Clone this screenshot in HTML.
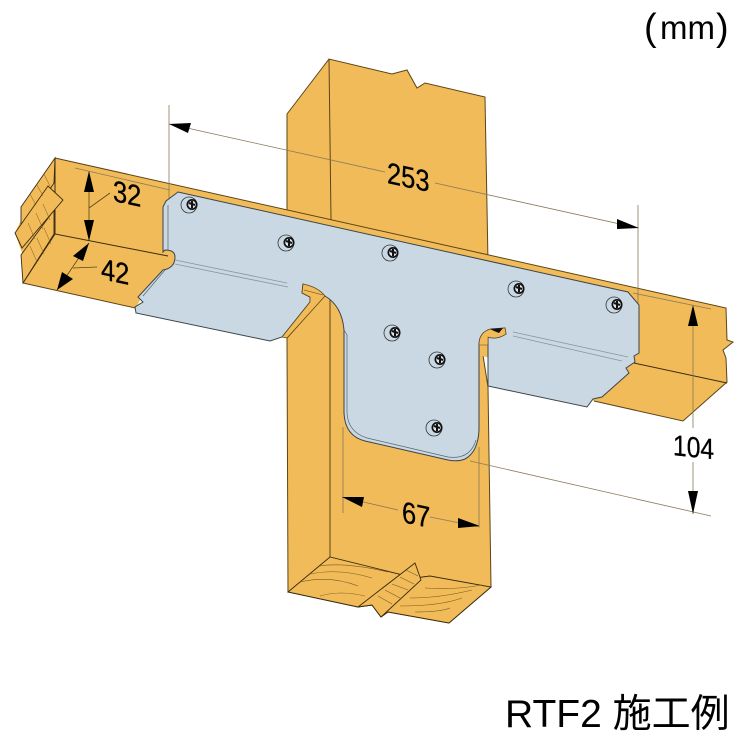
<!DOCTYPE html>
<html><head><meta charset="utf-8"><style>
html,body{margin:0;padding:0;background:#fff;width:750px;height:750px;overflow:hidden}
svg{display:block}
text{font-family:"Liberation Sans","Noto Sans CJK JP",sans-serif;fill:#000}
.n{stroke:#000;stroke-width:.3}
</style></head><body>
<svg width="750" height="750" viewBox="0 0 750 750" xmlns="http://www.w3.org/2000/svg">
<defs>
<g id="s">
<circle cx="-2" r="8" fill="#c9d8e3" stroke="#333" stroke-width="0.8"/>
<circle cx="1" cy="-0.5" r="5.5" fill="#111"/>
<circle cx="1" cy="-0.5" r="3.8" fill="#dfe7ed"/>
<path d="M-2,-2 L4,0 M1,-4 L1,3" stroke="#111" stroke-width="2"/>
</g>
</defs>
<!-- upper post -->
<path d="M287,220 L287,114 L329,59 L392,74 L407,70 L417,88 L425,83 L485,97 L488,262" fill="#f0bb58" stroke="#5c4518" stroke-width="1"/>
<!-- lower post fill -->
<path d="M287,338 L325,295 L479,330 L488,387 L491,587 L449,623 L388,612 L381,617 L372,605 L358,607 L288,592 Z" fill="#f0bb58" stroke="#5c4518" stroke-width="1"/>
<!-- beam fill -->
<path d="M55,158 L726,308 L727,340 L733,342 L723,350 L726,358 L727,382 L683,421 L594,401 L500,360 L300,315 L140,300 L136,308 L23,283 L22,253 L15,233 L21,220 L21,207 Z" fill="#f0bb58"/>
<path d="M140,309 L23,283 M55,158 L726,308 L727,340 L733,342 L723,350 L726,358 L727,382 L683,421 L594,401" fill="none" stroke="#5c4518" stroke-width="1"/>
<path d="M329,59 L331,220 M330,300 L330,557" stroke="#5c4518" stroke-width="1" fill="none"/>
<path d="M55,158 L55,234 L168,256 M55,234 L23,283 M634,363 L727,383" stroke="#3a2c10" stroke-width="1" fill="none"/>
<!-- left end grain -->
<path d="M55,158 L54,183 L21,232 L21,207 Z" fill="#f0bb58" stroke="#3a2c10" stroke-width="0.9"/>
<path d="M54,210 L54,234 L23,283 L21,255 Z" fill="#f0bb58" stroke="#3a2c10" stroke-width="0.9"/>
<path d="M48,186 L63,200 L22,248 L15,233 Z" fill="#f0bb58" stroke="#3a2c10" stroke-width="0.9"/>
<g stroke="#7a5c20" stroke-width="0.5" fill="none">
<path d="M30,194 L36,205 M37,185 L43,196 M44,174 L50,186 M28,223 L35,239 M36,213 L43,229 M43,204 L50,220 M30,246 L37,262 M37,238 L44,254 M44,228 L51,244"/>
</g>
<!-- bottom end grain -->
<path d="M288,592 L330,557 L415,578 L430,576 L491,587 L449,623 L388,612 L381,617 L372,605 L358,607 Z" fill="#f0bb58" stroke="#3a2c10" stroke-width="0.9"/>
<path d="M358,607 L415,563 L421,580 L381,617 L372,605 Z" fill="#f0bb58" stroke="#3a2c10" stroke-width="0.9"/>
<g stroke="#7a5c20" stroke-width="0.6" fill="none">
<path d="M300,582 Q330,575 358,586 M310,574 Q340,568 372,578 M320,566 Q345,562 388,572"/>
<path d="M320,596 Q340,590 365,596 M400,606 Q440,606 462,598 M410,598 Q440,598 472,590 M425,588 Q455,590 482,585 M415,612 Q440,612 450,608"/>
<path d="M378,596 L392,604 M385,590 L400,598 M392,584 L408,590 M400,577 L414,584 M406,570 L418,576"/>
</g>
<!-- dimension lines below plate -->
<g stroke="#8a7a5a" stroke-width="0.8" fill="none">
<path d="M75,168 L170,190 M169,105 L169,207"/>
<path d="M169,124 L385,172 M435,183 L638,228 M638,205 L638,305"/>
<path d="M633,293 L711,309 M693,310 L693,428 M693,462 L693,514 M470,461 L711,516"/>
<path d="M343,427 L343,513 M479,447 L479,525 M342,497 L398,510 M430,517 L480,527"/>
</g>
<g stroke="#5c4518" stroke-width="0.8" fill="none">
<path d="M89,172 L89,240 M89,208 L110,193 M89,243 L57,290 M73,268 L97,267"/>
</g>
<!-- plate -->
<path d="M178,192 L628,292 L639,305 L639,353 L634,356 L635,362 L626,368 L629,373 L602,397 L593,399 L587,407 L488,386 L488,337 Q497,340 506,334 L505,328 L491,329 Q479,332 479,345 L479,430 Q478,452 465,459 Q458,462 448,460 L365,441 Q345,436 344,413 L344,330 Q342,306 325,296 L303,284 L302,293 L310,297 L310,302 L282,337 L270,341 L136,313 L135,307 L143,302 L138,297 L163,270 Q175,268 175,257 Q175,250 165,250 L163,252 L163,207 L166,201 Z" fill="#c9d8e3" stroke="#3c444a" stroke-width="1"/>
<path d="M168,205 L168,250 M344,330 L347,335 L347,413 Q348,432 367,438 L448,457 Q470,460 476,440 M165,270 L143,296" stroke="#58646c" stroke-width="0.7" fill="none"/>
<!-- orange tabs -->
<path d="M303,284 Q318,287 325,296 L287,338 L282,337 L310,302 L310,297 L302,293 Z" fill="#f0bb58" stroke="#5c4518" stroke-width="0.8"/>
<path d="M304,290 L323,295" stroke="#5c4518" stroke-width="0.6"/>
<path d="M479,345 Q479,332 491,329 L505,328 L506,334 Q497,340 488,337 L488,345 Z" fill="#f0bb58" stroke="#5c4518" stroke-width="0.6"/>
<path d="M490,329 L503,328 L499,333 L494,331 Z" fill="#111"/>
<path d="M175,260 L287,283 M175,264 L288,287 M513,332 L628,357 M513,336 L622,361" stroke="#8a959c" stroke-width="0.8" fill="none"/>
<!-- screws -->
<use href="#s" x="191" y="205"/><use href="#s" x="288" y="243"/><use href="#s" x="392" y="253"/>
<use href="#s" x="518" y="289"/><use href="#s" x="616" y="305"/><use href="#s" x="394" y="333"/>
<use href="#s" x="439" y="360"/><use href="#s" x="436" y="428"/>
<!-- arrowheads -->
<g fill="#000">
<path d="M169,124 L191,123 L188,133 Z"/>
<path d="M639,228 L617,219 L617,229 Z"/>
<path d="M89,171 L84,192 L94,192 Z"/>
<path d="M89,241 L84,220 L94,220 Z"/>
<path d="M89,243 L73,256 L83,261 Z"/>
<path d="M57,290 L62,272 L73,279 Z"/>
<path d="M693,305 L688,326 L698,326 Z"/>
<path d="M693,514 L688,491 L698,491 Z"/>
<path d="M342,497 L364,497 L362,507 Z"/>
<path d="M480,526 L458,518 L458,528 Z"/>
</g>
<!-- text -->
<text class="n" transform="translate(113,201) skewY(12) scale(.85,1)" font-size="30">32</text>
<text class="n" transform="translate(101,279) skewY(12) scale(.85,1)" font-size="30">42</text>
<text class="n" transform="translate(387,183) skewY(12) scale(.85,1)" font-size="30">253</text>
<text class="n" transform="translate(402,522) skewY(12) scale(.85,1)" font-size="30">67</text>
<text class="n" transform="translate(673,455) skewY(6) scale(.85,1)" font-size="29">104</text>
<text y="39" font-size="33"><tspan x="644" y="40" font-size="38">(</tspan><tspan x="660" y="39">mm</tspan><tspan x="716" y="40" font-size="38">)</tspan></text>
<text x="505" y="727" font-size="39">RTF2 施工例</text>
</svg>
</body></html>
